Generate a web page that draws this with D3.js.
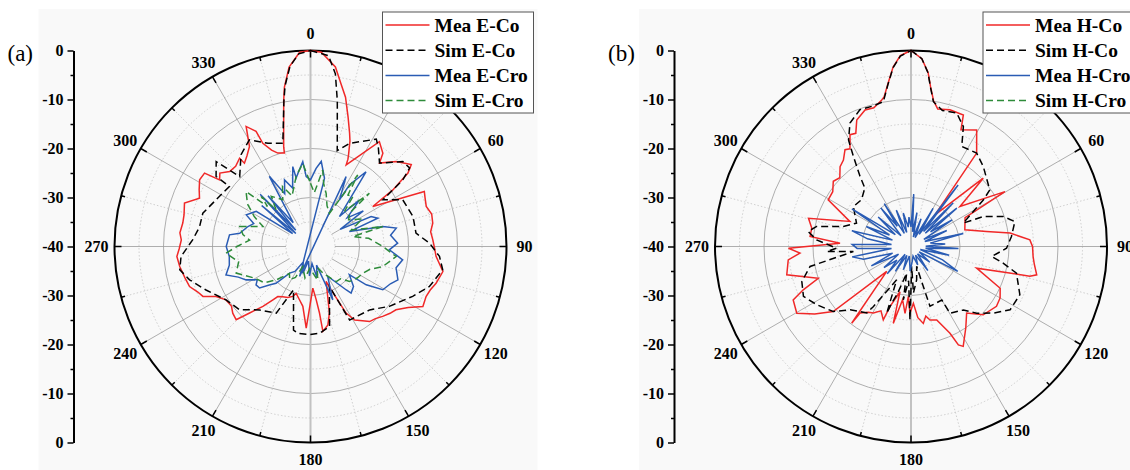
<!DOCTYPE html>
<html>
<head>
<meta charset="utf-8">
<script src="https://cdn.jsdelivr.net/npm/d3@7"></script>
<style>
body { margin: 0; background: #fff; }
text { font-family: "Liberation Serif", "Times New Roman", serif; }
</style>
</head>
<body>
<div id="chart-area"></div>
<script>

// Polar radiation patterns, values are [angle in degrees, gain in dB]

// (a) E-plane
let meaECo = [[0,0],[3.2,-0.3],[7.9,-3],[10.6,-6.2],[13.2,-8.7],[16.2,-12.5],[19,-15.5],[20.5,-17],[22.5,-19.7],[23.2,-20.6],[23.6,-21.8],
	[33.3,-14.4],[37.8,-15.9],[39.6,-17.9],[45.2,-15.4],[50.9,-13.5],[53,-15.1],[55.5,-19.6],[57.3,-24.9],[64.2,-14.2],[67,-14.6],
	[70.9,-15],[75,-14.4],[79.2,-14.6],[83,-15.3],[86.9,-15],[90.5,-14.7],[94.5,-14.3],[100.7,-12.5],[106.3,-13.3],[110,-14],
	[113.4,-14.3],[118.1,-14],[122,-16.5],[126.5,-18.3],[130,-18.8],[134.1,-19.5],[138,-20.2],[141.8,-20.5],[145,-21.5],[149,-22.5],
	[151.9,-24.6],[154.5,-30.2],[155.9,-32.2],[164.1,-25.9],[167.5,-23.6],[171.7,-22.5],[172.3,-26.3],[173.9,-29.1],[176.8,-31.5],
	[183,-23.3],[187.3,-27.7],[191.7,-28.9],[197,-30],[199.5,-29.2],[204,-28.6],[209,-28.3],[213.2,-27.8],[215.2,-26.7],[218.5,-24.4],
	[222.5,-21.6],[225.4,-18.7],[229.4,-19.1],[233,-19.8],[237.7,-19.6],[242.1,-18.2],[245.1,-15.8],[248,-15.2],[251.7,-14],[256,-13.6],
	[261.3,-13],[265.7,-12.65],[269,-13.2],[272.9,-13.6],[276,-13.2],[280.4,-13.5],[284,-13.4],[289,-12.8],[293.5,-15.3],[297,-14.5],
	[301,-13.6],[304.7,-13.7],[306.2,-17],[309,-16.2],[312.8,-17.5],[317,-17.6],[321.2,-16.9],[321.6,-18.3],[325,-17.4],[328.6,-16.1],
	[331.8,-12.2],[334.7,-14],[335.2,-16.8],[338,-18.8],[340.7,-19.8],[344.4,-20.2],[344.9,-19],[347.4,-14.9],[349.6,-9.7],[350.7,-7.05],
	[353.2,-3.1],[356.8,-0.3]];

let simECo = [[0,0],[5.4,-0.9],[8.2,-4.4],[10.4,-9.7],[13.4,-16.4],[15.6,-19.7],[20.7,-17.5],[31.5,-14.3],[34.4,-15.5],[39.6,-17.9],
	[47.4,-14.4],[51.6,-14.2],[54.2,-16.8],[57.2,-22.4],[63.2,-18.9],[73.7,-18.2],[82.8,-18.3],[88.4,-15.7],[94.4,-13.6],[100,-12.6],
	[108.6,-14.4],[116,-16.8],[127.2,-19.8],[137,-22.3],[152,-23],[154.6,-31],[166.6,-23.2],[174,-22.2],[180.6,-22],[188.3,-22.1],
	[191.5,-22.6],[201.4,-30.5],[207.2,-24.7],[218.8,-23.4],[228.3,-20.6],[237.7,-19.6],[247.4,-16.9],[254.6,-14.4],[259.9,-12.9],
	[265.6,-13.5],[273.2,-15.9],[280,-17],[287.2,-17],[296.3,-18.5],[306.5,-19.4],[306.6,-16],[312,-14.1],[314.6,-19.7],[322.9,-16.5],
	[330.2,-14.9],[337.6,-17.2],[345,-18.2],[349.6,-9.9],[351,-6.8],[353.5,-3],[356.5,-0.6]];

let meaECro = [[0,-26.4],[4.1,-24],[7.2,-22.5],[11.6,-25.8],[20,-46.5],[27,-24],[31.9,-28.8],[32.3,-25.1],[36.6,-21],[44,-31.5],
	[46.4,-26.2],[52,-30.5],[56,-27],[60,-33],[63.7,-26.2],[67.2,-25.1],[69,-31.5],[74.5,-24.7],[77.9,-22.1],[82,-23.5],[87.8,-22.2],
	[92.4,-23.9],[98.2,-21],[104,-22],[110.9,-20.9],[115,-22],[120.9,-22.8],[124.5,-26.2],[126,-30.2],[133,-28],[138.9,-27.4],
	[140.5,-28.5],[150,-33],[157.3,-28.2],[162,-36],[168,-33.5],[175,-36.5],[182,-34],[188,-37],[196,-34.3],[205,-36.5],[212,-34],
	[218.2,-33.1],[223.1,-29.7],[227,-28.5],[230.8,-26.6],[234.8,-26.4],[238,-27.2],[242.6,-25.2],[247,-24],[251.4,-21.8],[257,-23],
	[263,-23.3],[270,-22.8],[278.2,-23.3],[280.6,-25.3],[287.7,-26.6],[292,-27.5],[296.2,-25.4],[303,-26.8],[306,-35.5],[310,-27],
	[311.5,-36],[316,-25.2],[318,-35.5],[320,-26.5],[324,-34],[329.6,-23.4],[334,-28],[338.7,-25.4],[343,-27.5],[347.5,-23.3],
	[348.2,-25.7],[351,-24.5],[354.8,-22.6],[356.5,-25.7]];

let simECro = [[0,-27.1],[4,-29],[9.1,-24.2],[12,-27],[16.4,-28.7],[22,-31],[29.7,-32.2],[33.4,-22.5],[36,-27],[40.3,-26.6],
	[44,-30],[47.9,-23.8],[49.5,-29.5],[55,-30.5],[62,-28],[68,-31],[74.5,-24.7],[76.7,-31.1],[82,-28],[90,-25.2],[96.7,-22.4],
	[105.5,-24.7],[111,-27],[117,-28],[124,-28.5],[131.9,-29.3],[137,-31],[143.7,-31.1],[150,-33],[155,-34],[162,-35.5],[168,-33],
	[175,-34.6],[182,-35.5],[190,-33.5],[201,-35.6],[206,-33],[212,-32],[218,-33],[225.8,-30.2],[232,-28],[240,-27],[250.3,-23.9],
	[258,-25],[265.5,-22.7],[270,-25],[276,-27.5],[280,-26],[285.7,-25],[292.8,-29.5],[298,-27],[304,-24.5],[310.5,-22.7],[313,-28],
	[315.4,-25.7],[316.9,-29.7],[322,-27],[329.3,-28.9],[335,-26.5],[340,-29],[348.4,-25.4],[354.7,-23]];

// (b) H-plane
let meaHCo = [[0,0],[3.3,-1.6],[5.6,-4.3],[7,-7.2],[8.8,-9.9],[11,-11.4],[15.9,-11],[21.7,-11.1],[23.2,-14.1],[29.4,-12.7],
	[35.1,-16.7],[37.2,-31.9],[46.6,-19.7],[50.8,-27.1],[59.7,-17.8],[62,-27.5],[72.8,-28.5],[78.8,-24.3],[82.3,-19.6],[86.8,-15.7],
	[90,-15.2],[94.7,-15],[98,-14.6],[102.7,-13.7],[104,-15],[108.3,-25.9],[115.1,-19.9],[120,-19],[125,-18.7],[133.4,-19.7],
	[140.1,-22.3],[146,-20],[152.4,-17],[154.3,-17.7],[155.8,-20.6],[160.7,-24.1],[165.5,-24.5],[168,-25.5],[170.9,-24.1],[174.5,-25.4],
	[177.6,-28.4],[180.9,-26.4],[183,-29.8],[185.1,-26.3],[189,-29],[193,-23.9],[193.7,-30.5],[199.3,-27],[200.7,-24],[205,-25.5],
	[209.5,-24.4],[213,-24],[217.4,-22.9],[217.7,-20.2],[224.2,-32.9],[230.1,-19.3],[235,-16],[239.7,-13],[245.6,-13.6],[248.1,-16.3],
	[251.1,-20],[257.2,-14],[263.8,-14.8],[266.6,-17.3],[269.2,-15],[272.7,-25.5],[275.7,-19.3],[280.5,-19.4],[285.4,-18.3],[292.3,-26.5],
	[299.4,-20.6],[305,-20.5],[310,-19.3],[314,-19.8],[318.4,-18.2],[322,-17.6],[325.7,-16.1],[328,-16.5],[331.4,-14],[334,-14.3],
	[336.8,-11.9],[341.4,-10.6],[345,-10.7],[348.7,-9.5],[349.8,-9],[351.9,-6.5],[354.3,-3.2],[356.8,-1]];

let simHCo = [[0,0],[3.3,-1.6],[5.6,-4.4],[7,-7.3],[8.8,-10.1],[13,-11.5],[18.9,-11.2],[23.6,-13.3],[26.9,-17.1],[35.1,-16.7],
	[42.1,-18],[54.3,-20.2],[57.2,-22.4],[65.9,-28.3],[67.5,-24],[72,-20.2],[76.5,-18.2],[84.3,-19.4],[91,-20.5],[97.1,-23.4],
	[100.2,-20.9],[104.2,-17.8],[113.9,-15.7],[122.6,-16],[129,-18.4],[135.4,-20.9],[140.4,-23.2],[149.7,-24.2],[150.1,-27.4],
	[162.4,-27.2],[162.9,-31.5],[164,-35.8],[170.4,-33.1],[177,-30.5],[178,-35.9],[180.8,-25],[184,-33],[188.2,-29],[189.2,-34.5],
	[196,-30],[198.8,-27.8],[200,-25.5],[203.3,-32.6],[212.1,-25.5],[213.6,-23.7],[223.9,-22.1],[230.1,-19.3],[238.3,-17.4],
	[245.1,-15.8],[252.2,-16.6],[258.8,-19],[265,-28.2],[266.6,-22.8],[268.7,-24.8],[274,-20.7],[278.3,-18.8],[282,-20.3],[286.5,-25.6],
	[293.2,-27.9],[304.7,-25.7],[313.4,-26.1],[321.7,-24.8],[324,-22.3],[327.4,-18.2],[329.6,-14.8],[333.7,-11.9],[339.5,-10.2],
	[345,-10.3],[349.2,-9.9],[351.9,-6.6],[354.3,-3.3],[356.8,-1.1]];

let meaHCro = [[0,-36],[3,-29.3],[6,-37],[10,-33],[14,-38],[20,-34],[25,-38],[30,-31],[34,-37],[37.5,-24.2],[40,-36],[44,-27.6],
	[47,-36],[50,-27.8],[53,-35],[57,-30],[61,-37],[66,-32],[70,-37],[76,-29],[80,-36],[86,-33],[89,-37],[92.5,-30.3],[97,-37],
	[103,-32],[108,-38],[113,-33],[118,-29.2],[123,-38],[130,-35],[138,-38],[145,-34],[152,-38],[160,-36],[168,-38],[175,-37],
	[182,-35],[190,-38],[198,-35],[205,-38],[212,-34],[217,-38],[221,-32.6],[226,-36],[232,-33],[238,-37],[244,-31],[250,-36],
	[255,-30],[260,-27.8],[264,-36],[268,-29],[272,-28],[276,-36],[280,-31],[285,-27.5],[289,-36],[294,-30],[298,-35],[302.5,-25.7],
	[307,-36],[312,-31],[317,-37],[322,-30],[326,-35],[328,-29.7],[333,-37],[338,-32],[343,-37],[347,-33],[352,-36],[356,-34]];

let angleTicks = d3.range(0, 360, 30);
let radialTicks = d3.range(-40, 41, 10);

let legendA = ["Mea E-Co", "Sim E-Co", "Mea E-Cro", "Sim E-Cro"];
let legendB = ["Mea H-Co", "Sim H-Co", "Mea H-Cro", "Sim H-Cro"];

/////////////////////////
// SVG drawing area
/////////////////////////

let width = 1130, height = 470;
let R = 196;

let svg = d3.select("#chart-area").append("svg")
	.attr("width", width)
	.attr("height", height);

let r = d3.scaleLinear().domain([-40, 0]).range([0, R]);

let styles = [
	{color: "#f02828", dash: null},
	{color: "#000000", dash: "7,4"},
	{color: "#2a5cb4", dash: null},
	{color: "#2e8b3a", dash: "7,4"}
];

let toRad = d => d * Math.PI / 180;

function drawPanel(p) {
	let cx = p.cx, cy = p.cy;

	svg.append("rect")
		.attr("x", cx - 272).attr("y", 9)
		.attr("width", p.bgWidth).attr("height", height - 9)
		.attr("fill", "#f9f9f9");

	let g = svg.append("g")
		.attr("transform", "translate(" + cx + "," + cy + ")");

	// grid circles
	[-35, -25, -15, -5].forEach(v => {
		g.append("circle").attr("r", r(v))
			.attr("fill", "none").attr("stroke", "#c4c4c4")
			.attr("stroke-width", 0.8).attr("stroke-dasharray", "1.5,2");
	});
	[-30, -20, -10].forEach(v => {
		g.append("circle").attr("r", r(v))
			.attr("fill", "none").attr("stroke", "#9a9a9a")
			.attr("stroke-width", 0.8);
	});

	// spokes
	d3.range(15, 360, 30).forEach(a => {
		g.append("line")
			.attr("x1", r(-35) * Math.sin(toRad(a))).attr("y1", -r(-35) * Math.cos(toRad(a)))
			.attr("x2", R * Math.sin(toRad(a))).attr("y2", -R * Math.cos(toRad(a)))
			.attr("stroke", "#c4c4c4").attr("stroke-width", 0.8).attr("stroke-dasharray", "1.5,2");
	});
	angleTicks.filter(a => a % 180 !== 0).forEach(a => {
		g.append("line")
			.attr("x1", r(-35) * Math.sin(toRad(a))).attr("y1", -r(-35) * Math.cos(toRad(a)))
			.attr("x2", R * Math.sin(toRad(a))).attr("y2", -R * Math.cos(toRad(a)))
			.attr("stroke", "#9a9a9a").attr("stroke-width", 0.8);
	});
	g.append("line")
		.attr("x1", 0).attr("y1", -R).attr("x2", 0).attr("y2", R)
		.attr("stroke", "#c2c2c2").attr("stroke-width", 2);

	// outer circle and ticks
	g.append("circle").attr("r", R)
		.attr("fill", "none").attr("stroke", "#000").attr("stroke-width", 2);
	d3.range(0, 360, 15).forEach(a => {
		let len = a % 30 === 0 ? 7 : 4;
		g.append("line")
			.attr("x1", (R - len) * Math.sin(toRad(a))).attr("y1", -(R - len) * Math.cos(toRad(a)))
			.attr("x2", R * Math.sin(toRad(a))).attr("y2", -R * Math.cos(toRad(a)))
			.attr("stroke", "#000").attr("stroke-width", 1.5);
	});

	// angle labels
	g.selectAll(".angLab")
		.data(angleTicks)
		.enter().append("text")
		.attr("x", d => (R + 18) * Math.sin(toRad(d)))
		.attr("y", d => -(R + 17) * Math.cos(toRad(d)))
		.attr("text-anchor", "middle")
		.attr("dominant-baseline", "central")
		.attr("font-size", 16)
		.attr("font-weight", "bold")
		.text(d => d);

	// data
	let line = d3.lineRadial()
		.angle(d => toRad(d[0]))
		.radius(d => r(d[1]))
		.curve(d3.curveLinearClosed);

	p.series.forEach((s, i) => {
		if (!s) return;
		let sorted = s.slice().sort((a, b) => a[0] - b[0]);
		g.append("path")
			.datum(sorted)
			.attr("d", line)
			.attr("fill", "none")
			.attr("stroke", styles[i].color)
			.attr("stroke-width", 1.5)
			.attr("stroke-dasharray", styles[i].dash);
	});

	// left radial axis
	let yScale = d3.scaleLinear().domain([40, -40]).range([cy - R, cy + R]);
	let axisX = cx - 237;

	let minor = d3.axisLeft(yScale)
		.tickValues(d3.range(-35, 40, 10))
		.tickSize(3).tickSizeOuter(0)
		.tickFormat("");
	svg.append("g")
		.attr("transform", "translate(" + axisX + ",0)")
		.call(minor)
		.call(ax => ax.select(".domain").remove())
		.call(ax => ax.selectAll("line").attr("stroke-width", 1.5));

	let yAxis = d3.axisLeft(yScale)
		.tickValues(radialTicks)
		.tickSize(6).tickSizeOuter(0).tickPadding(4)
		.tickFormat(v => Math.abs(v) - 40);
	svg.append("g")
		.attr("transform", "translate(" + axisX + ",0)")
		.call(yAxis)
		.call(ax => ax.select(".domain").attr("stroke-width", 2))
		.call(ax => ax.selectAll("line").attr("stroke-width", 1.5))
		.call(ax => ax.selectAll("text")
			.attr("font-family", "Liberation Serif, serif")
			.attr("font-size", 16)
			.attr("font-weight", "bold")
			.attr("fill", "#000"));

	// panel label
	svg.append("text")
		.attr("x", cx - 303).attr("y", cy - R + 10)
		.attr("font-size", 23)
		.text(p.label);

	// legend
	let lg = svg.append("g")
		.attr("transform", "translate(" + (cx + 72) + ",12)");
	lg.append("rect")
		.attr("width", 151).attr("height", 101)
		.attr("fill", "#fff").attr("stroke", "#555").attr("stroke-width", 1);
	p.legend.forEach((name, i) => {
		let yy = 13 + i * 25.2;
		lg.append("line")
			.attr("x1", 3).attr("x2", 47).attr("y1", yy).attr("y2", yy)
			.attr("stroke", styles[i].color).attr("stroke-width", 1.5)
			.attr("stroke-dasharray", styles[i].dash);
		lg.append("text")
			.attr("x", 52).attr("y", yy)
			.attr("dominant-baseline", "central")
			.attr("font-size", 19.5).attr("font-weight", "bold")
			.text(name);
	});
}

drawPanel({cx: 310.5, cy: 246.5, bgWidth: 499, label: "(a)", legend: legendA,
	series: [meaECo, simECo, meaECro, simECro]});
drawPanel({cx: 911, cy: 246.5, bgWidth: 492, label: "(b)", legend: legendB,
	series: [meaHCo, simHCo, meaHCro, null]});

</script>
</body>
</html>
